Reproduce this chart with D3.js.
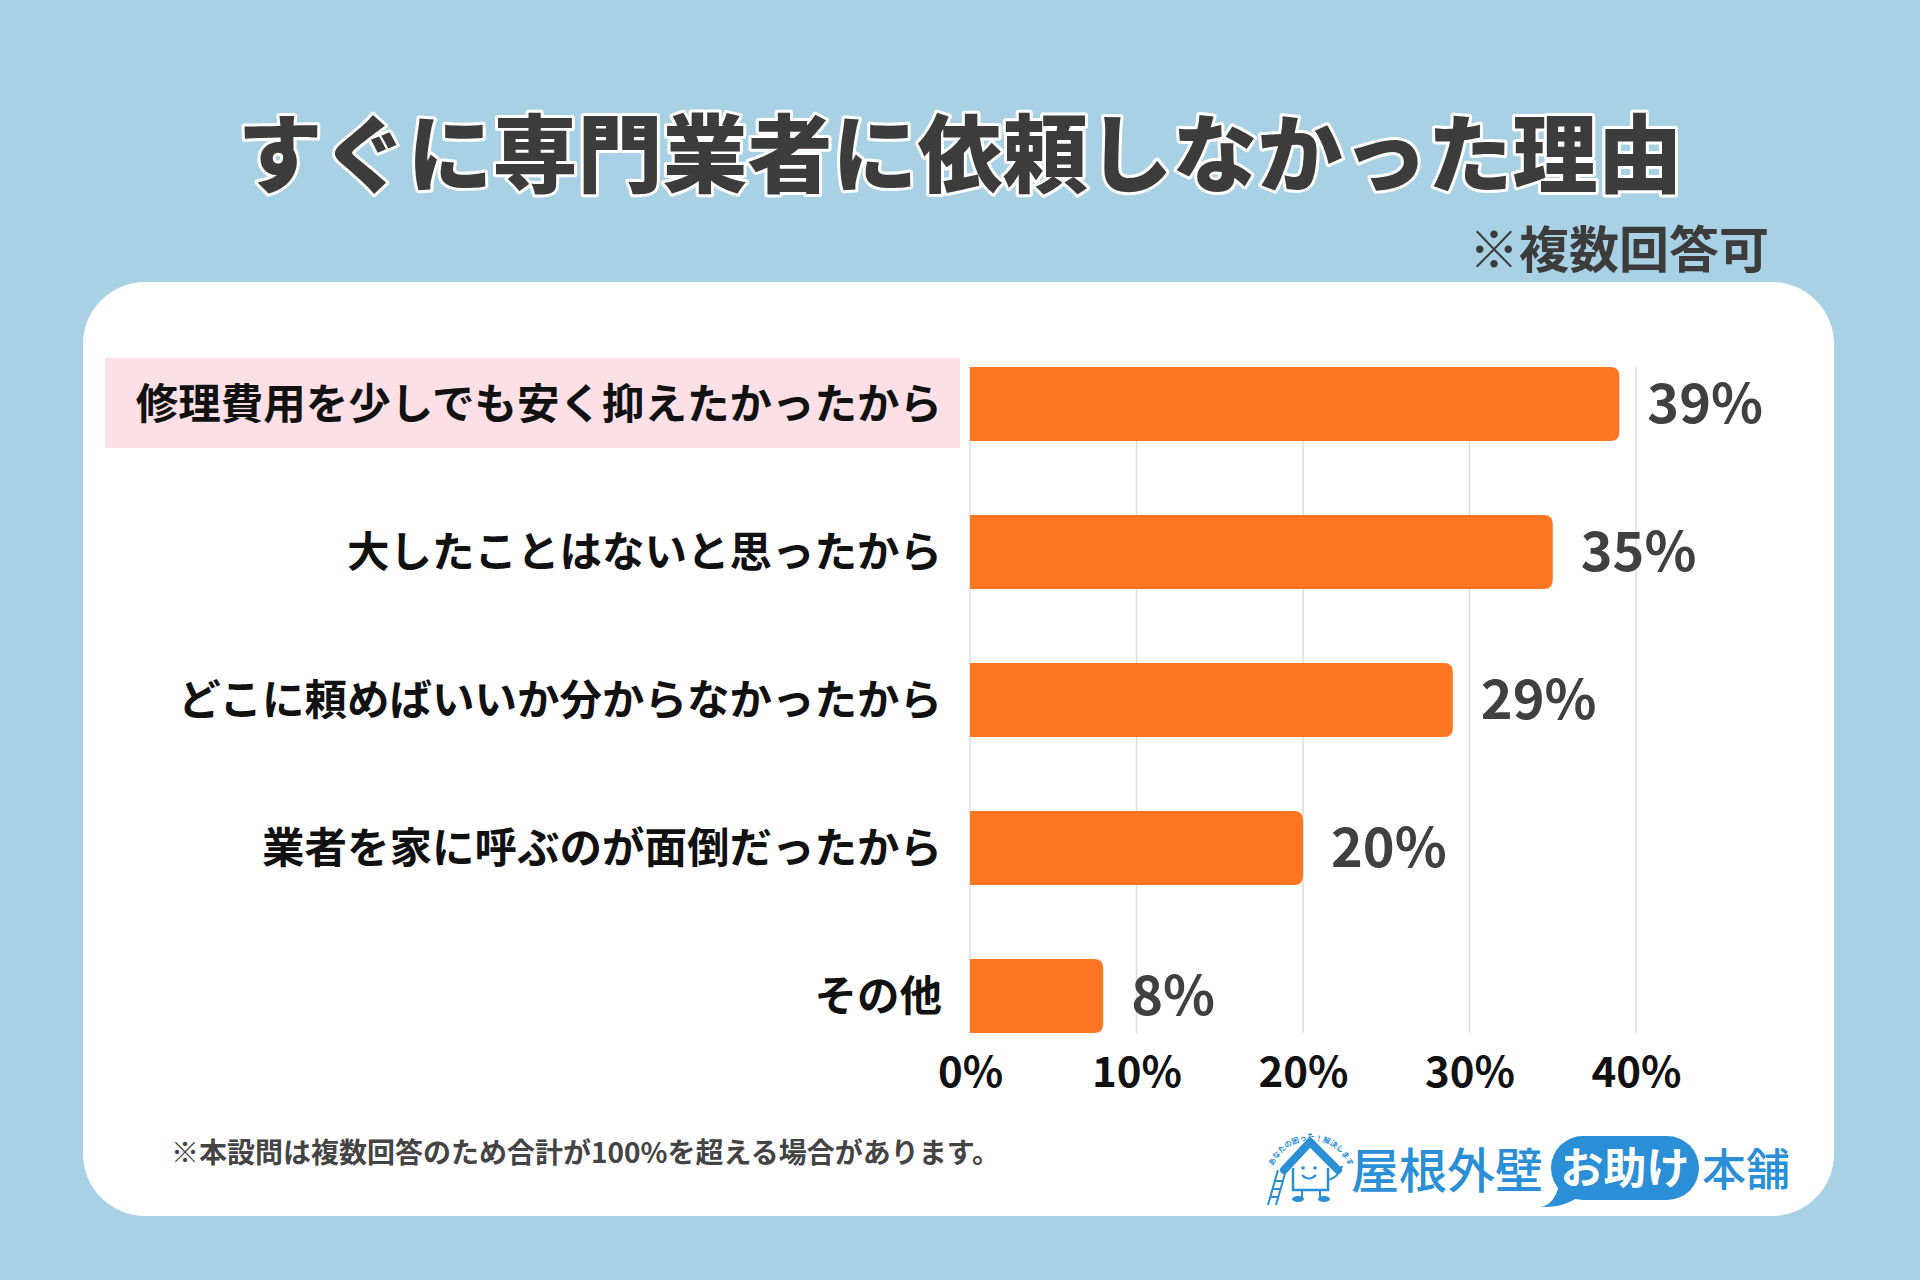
<!DOCTYPE html>
<html><head><meta charset="utf-8">
<script src="https://cdn.jsdelivr.net/npm/d3@7"></script>
<style>
html,body{margin:0;padding:0;background:#a9d1e5;}
svg{display:block;}
text{font-family:"Noto Sans CJK JP","Noto Sans",sans-serif;}
</style></head>
<body>
<svg id="c" width="1920" height="1280"></svg>
<script>
const titleText = "すぐに専門業者に依頼しなかった理由";
const noteText = "※複数回答可";
const categories = ["修理費用を少しでも安く抑えたかったから","大したことはないと思ったから","どこに頼めばいいか分からなかったから","業者を家に呼ぶのが面倒だったから","その他"];
const values = [39,35,29,20,8];
const tickValues = [0,10,20,30,40];
const footnote = "※本設問は複数回答のため合計が100%を超える場合があります。";
const logoParts = ["屋根外壁","お助け","本舗"];
const logoSub = "あなたの困った！解決します";

const svg = d3.select("#c");
svg.append("rect").attr("width",1920).attr("height",1280).attr("fill","#a9d1e5");

// title
svg.append("text").attr("x",960).attr("y",186).attr("text-anchor","middle")
  .attr("font-size",85).attr("font-weight",900).attr("fill","#3c3c3c")
  .attr("stroke","#ffffff").attr("stroke-width",6).attr("paint-order","stroke")
  .attr("stroke-linejoin","round").text(titleText);
svg.append("text").attr("x",1769).attr("y",268).attr("text-anchor","end")
  .attr("font-size",50).attr("font-weight",700).attr("fill","#3c3c3c").text(noteText);

// card
svg.append("rect").attr("x",83).attr("y",282).attr("width",1751).attr("height",934)
  .attr("rx",62).attr("fill","#ffffff");

// highlight
svg.append("rect").attr("x",105).attr("y",358).attr("width",855).attr("height",90).attr("fill","#fde0e6");

const x = d3.scaleLinear().domain([0,40]).range([970,1636]);
const y = d3.scaleBand().domain(categories).range([330,1070]).paddingInner(0.5).paddingOuter(0.25);

// gridlines
const gTop = y(categories[0]), gBot = y(categories[categories.length-1]) + y.bandwidth();
svg.append("g").selectAll("line").data(tickValues).join("line")
  .attr("x1",d=>x(d)).attr("x2",d=>x(d)).attr("y1",gTop).attr("y2",gBot)
  .attr("stroke","#dcdcdc").attr("stroke-width",1.5);

// bars
function barPath(x0,x1,y0,h,r){
  r=Math.min(r,(x1-x0));
  return `M${x0},${y0}H${x1-r}Q${x1},${y0} ${x1},${y0+r}V${y0+h-r}Q${x1},${y0+h} ${x1-r},${y0+h}H${x0}Z`;
}
svg.append("g").selectAll("path").data(values).join("path")
  .attr("d",(d,i)=>barPath(x(0),x(d),y(categories[i]),y.bandwidth(),9))
  .attr("fill","#fe7622");

// value labels
svg.append("g").selectAll("text").data(values).join("text")
  .attr("x",d=>x(d)+28).attr("y",(d,i)=>y(categories[i])+y.bandwidth()/2)
  .attr("dy","0.36em").attr("font-size",54).attr("font-weight",700).attr("fill","#404040")
  .attr("font-family","'Noto Sans',sans-serif")
  .text(d=>d+"%");

// category labels
svg.append("g").selectAll("text").data(categories).join("text")
  .attr("x",942).attr("y",d=>y(d)+y.bandwidth()/2).attr("dy","0.36em")
  .attr("text-anchor","end").attr("font-size",42.5).attr("font-weight",700).attr("fill","#111111")
  .text(d=>d);

// x axis
const axis = svg.append("g").attr("transform",`translate(0,${gBot})`)
  .call(d3.axisBottom(x).tickValues(tickValues).tickFormat(d=>d+"%").tickSize(0).tickPadding(24));
axis.select(".domain").remove();
axis.selectAll("text").attr("font-size",42).attr("font-weight",700).attr("fill","#111111")
  .attr("font-family","'Noto Sans CJK JP',sans-serif");

// footnote
svg.append("text").attr("x",171).attr("y",1163).attr("font-size",28).attr("font-weight",700)
  .attr("fill","#444444").text(footnote);

// logo
const blue = "#2a8fd6";
const lg = svg.append("g");
lg.append("defs").append("path").attr("id","arc")
  .attr("d","M1272,1170 A40,38 0 0 1 1350,1170");
// roof
lg.append("path").attr("d","M1284,1170 L1310,1142 L1338,1170")
  .attr("fill","none").attr("stroke",blue).attr("stroke-width",8).attr("stroke-linejoin","miter").attr("stroke-linecap","round");
// body
lg.append("path").attr("d","M1293,1168 V1190 H1328 V1168")
  .attr("fill","none").attr("stroke",blue).attr("stroke-width",2.5);
lg.append("path").attr("d","M1328,1180 Q1338,1178 1342,1166")
  .attr("fill","none").attr("stroke",blue).attr("stroke-width",2.2);
lg.append("circle").attr("cx",1303).attr("cy",1168).attr("r",1.8).attr("fill",blue);
lg.append("circle").attr("cx",1315).attr("cy",1168).attr("r",1.8).attr("fill",blue);
lg.append("path").attr("d","M1302,1175 Q1309,1182 1316,1175")
  .attr("fill","none").attr("stroke",blue).attr("stroke-width",2);
lg.append("path").attr("d","M1268,1205 L1278,1170 M1276,1205 L1286,1170 M1270,1197h8 M1272,1189h8 M1275,1181h8")
  .attr("fill","none").attr("stroke",blue).attr("stroke-width",2);
lg.append("path").attr("d","M1302,1190 V1198 M1320,1190 V1198").attr("stroke",blue).attr("stroke-width",2);
lg.append("ellipse").attr("cx",1298).attr("cy",1199).attr("rx",6).attr("ry",3).attr("fill",blue);
lg.append("ellipse").attr("cx",1324).attr("cy",1199).attr("rx",6).attr("ry",3).attr("fill",blue);
lg.append("text").attr("font-size",7.5).attr("font-weight",700).attr("fill",blue)
  .append("textPath").attr("href","#arc").attr("startOffset","50%").attr("text-anchor","middle").text(logoSub);

lg.append("text").attr("x",1351).attr("y",1188).attr("font-size",48).attr("font-weight",500)
  .attr("fill",blue).text(logoParts[0]);
// speech bubble
lg.append("rect").attr("x",1551).attr("y",1136).attr("width",148).attr("height",64).attr("rx",32).attr("fill",blue);
lg.append("path").attr("d","M1560,1180 Q1556,1204 1541,1207 Q1566,1208 1582,1194 Z").attr("fill",blue);
lg.append("text").attr("x",1625).attr("y",1184).attr("text-anchor","middle").attr("font-size",43)
  .attr("font-weight",700).attr("fill","#ffffff").text(logoParts[1]);
lg.append("text").attr("x",1702).attr("y",1186).attr("font-size",44).attr("font-weight",500)
  .attr("fill",blue).text(logoParts[2]);
</script>
</body></html>
